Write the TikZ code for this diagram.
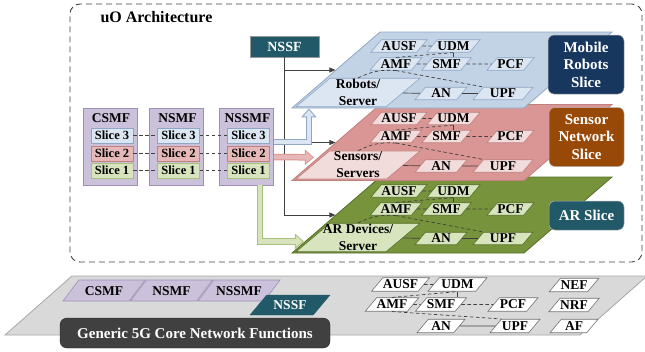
\documentclass[tikz,border=0pt]{standalone}
\usepackage{fontspec}
\setmainfont{Liberation Serif}
\usetikzlibrary{shapes.geometric,arrows.meta,calc}
\definecolor{blueplane}{HTML}{C3D3E6}
\definecolor{blueedge}{HTML}{8EA7C6}
\definecolor{bluelight}{HTML}{DCE6F2}
\definecolor{redplane}{HTML}{D99694}
\definecolor{rededge}{HTML}{C0807D}
\definecolor{redlight}{HTML}{F2DCDB}
\definecolor{redmid}{HTML}{E6B9B8}
\definecolor{greenplane}{HTML}{77933C}
\definecolor{greenedge}{HTML}{56702A}
\definecolor{greenlight}{HTML}{D7E4BD}
\definecolor{greensoft}{HTML}{A9BF7C}
\definecolor{mgrfill}{HTML}{CCC1DA}
\definecolor{mgredge}{HTML}{9F8FB6}
\definecolor{nssfcol}{HTML}{215968}
\definecolor{robotcol}{HTML}{17375E}
\definecolor{sensorcol}{HTML}{984807}
\definecolor{corefill}{HTML}{D9D9D9}
\definecolor{coreedge}{HTML}{A6A6A6}
\newcommand\fnsize{\fontsize{13.5}{15}\selectfont}
\newcommand\devsize{\fontsize{13.5}{17}\selectfont}
\newcommand\slsize{\fontsize{12.5}{14}\selectfont}
\newcommand\hdsize{\fontsize{13.5}{15}\selectfont}
\newcommand\tagsize{\fontsize{15}{17.5}\selectfont}
\newcommand\titlesize{\fontsize{16}{18}\selectfont}
% hollow arrow: fill, border, path
\newcommand\fatarrow[3]{%
  \draw[line width=6.5pt,draw=#2,line join=miter,-{Triangle[length=9pt,width=15pt]}] #3;
  \draw[line width=4.5pt,draw=#1,line join=miter,shorten >=1.6pt,-{Triangle[length=6.4pt,width=10.7pt]}] #3;
}

\begin{document}
\begin{tikzpicture}[x=1pt,y=-1pt,
every node/.style={font=\bfseries},
link/.style={draw=black!75,line width=0.7pt},
dashlink/.style={link,dash pattern=on 3.5pt off 2.5pt},
slanted/.style={trapezium,trapezium left angle=#1,trapezium right angle=180-#1,
  trapezium stretches body,inner sep=0pt},
fnbox/.style 2 args={slanted=50,fill=#1,draw=#2,line width=0.6pt,
  text height=10.5pt,text depth=2pt,font=\bfseries\fnsize},
plane/.style={slanted=40.8,line width=0.8pt,minimum width=320pt,text height=76pt,text depth=0pt},
devbox/.style={slanted=40,line width=0.6pt,minimum width=124pt,
  inner xsep=-14pt,inner ysep=1pt,align=center,font=\bfseries\devsize},
mgrbox/.style={fill=mgrfill,draw=mgredge,line width=0.8pt,minimum width=54pt,minimum height=77pt},
slicebox/.style={line width=0.8pt,minimum width=42pt,minimum height=15pt,inner sep=0pt,font=\bfseries\slsize},
slicetag/.style={rounded corners=6pt,text=white,align=center,inner sep=0pt,
  font=\bfseries\tagsize,draw=white!70!black,line width=0.5pt},
arr/.style={link,-{Triangle[length=6pt,width=5pt]}}]
\useasboundingbox (0,0) rectangle (645,351);

%outer frame
\node[draw=black!75,line width=0.9pt,dash pattern=on 6pt off 4pt,rounded corners=10pt,
  minimum width=572pt,minimum height=258pt] (uo) at (356,133) {};
\node[anchor=west,font=\bfseries\titlesize] (uot) at (97,17) {uO Architecture};

%managers with their slices
\foreach \n/\t/\x in {csmf/CSMF/110,nsmf/NSMF/176.5,nssmf/NSSMF/246.5}{
  \node[mgrbox] (\n) at (\x,146.5) {};
  \node[font=\bfseries\hdsize] (\n h) at (\x+1,118) {\t};
  \foreach \k/\y/\f/\e in {3/135.5/bluelight/blueedge,2/153.5/redmid/rededge,1/170.5/greenlight/greensoft}
    \node[slicebox,fill=\f,draw=\e] (\n\k) at (\x+2,\y) {Slice \k};
}
\foreach \k in {1,2,3}{
  \draw[dashlink] (csmf\k) -- (nsmf\k);
  \draw[dashlink] (nsmf\k) -- (nssmf\k);
}

%slice planes, lowest first
\foreach \p/\cy/\pf/\pe/\lf/\le/\dev in {
  3/215/greenplane/greenedge/greenlight/greenedge/{AR Devices/\\Server},
  2/142.5/redplane/rededge/redlight/rededge/{Sensors/\\Servers},
  1/70/blueplane/blueedge/bluelight/blueedge/{Robots/\\Server}}{
  \node[plane,fill=\pf,draw=\pe] (p\p) at (452,\cy) {};
  \node[devbox,fill=\lf,draw=\le] (dev\p) at (358,\cy+22.5) {\dev};
  \foreach \f/\t/\x/\dy/\w in {ausf/AUSF/399/-24/48,udm/UDM/453.5/-24/53,
      amf/AMF/396/-6/42,smf/SMF/446.5/-6/43,pcf/PCF/510.5/-6/45,
      an/AN/441/23.5/52,upf/UPF/503/23.5/60}
    \node[fnbox={\lf}{\le},minimum width=\w pt] (\f\p) at (\x,\cy+\dy) {\t};
  \draw[dashlink] (ausf\p) -- (udm\p);
  \draw[dashlink] (amf\p.north) -- (udm\p.south);
  \draw[link] (udm\p.south) -- (udm\p.south |- smf\p.north);
  \draw[dashlink] (amf\p) -- (smf\p);
  \draw[dashlink] (smf\p) -- (pcf\p);
  \draw[dashlink] (dev\p.north) to[bend left=15] (amf\p.south);
  \draw[dashlink] (amf\p.south) -- (upf\p.top left corner);
  \draw[link] (dev\p) -- (an\p);
  \draw[link] (an\p) -- (upf\p);
}

%slice names
\node[slicetag,fill=robotcol,minimum width=76pt,minimum height=59pt] (robot) at (586,64.5) {Mobile\\Robots\\Slice};
\node[slicetag,fill=sensorcol,minimum width=75pt,minimum height=59pt] (sensor) at (586.5,137) {Sensor\\Network\\Slice};
\node[slicetag,fill=nssfcol,minimum width=75pt,minimum height=29pt] (ar) at (586.5,215.5) {AR Slice};

%nssf selects the slices
\node[fill=nssfcol,draw=white!60!black,line width=0.5pt,text=white,minimum width=69pt,
  minimum height=21pt,inner sep=0pt,font=\bfseries\fontsize{14}{16}\selectfont] (nssf) at (284.5,46.5) {NSSF};
\foreach \p in {1,2,3}
  \draw[arr] (nssf.south) |- (p\p.west);

%hollow arrows from nssmf
\coordinate (r2) at ($(p2.bottom left corner)+(23,-23.5)$);
\coordinate (g3) at ($(p3.bottom left corner)+(13,-12)$);
\fatarrow{bluelight}{blueedge}{([yshift=4.5pt]nssmf.east) -| ([xshift=18pt]p1.bottom left corner)}
\fatarrow{redmid}{redplane}{([yshift=-10.5pt]nssmf.east) -- (r2)}
\fatarrow{greenlight}{greensoft}{([xshift=13.5pt]nssmf.south) |- (g3)}

%generic core
\node[slanted=41.4,fill=corefill,draw=coreedge,line width=0.8pt,minimum width=642pt,
  text height=59pt,text depth=0pt] (core) at (326,305.5) {};
\foreach \n/\t/\x in {ccsmf/CSMF/104,cnsmf/NSMF/171.5,cnssmf/NSSMF/239}
  \node[slanted=53,fill=mgrfill,draw=mgredge,line width=0.6pt,minimum width=82pt,
    text height=15pt,text depth=6pt,font=\bfseries\hdsize] (\n) at (\x,290.5) {\t};
\node[slanted=50,fill=nssfcol,draw=nssfcol,text=white,minimum width=80pt,
  text height=14.5pt,text depth=5.5pt,font=\bfseries\hdsize] (cnssf) at (290,305) {NSSF};
\node[fill=black!75,draw=black!85,rounded corners=7pt,text=white,minimum width=270pt,
  minimum height=30pt,inner sep=0pt,font=\bfseries\tagsize] (generic) at (195,333) {Generic 5G Core Network Functions};
\foreach \f/\t/\x/\y/\w in {ausf0/AUSF/400.5/284.5/55,udm0/UDM/457.5/284.5/59,
    amf0/AMF/392/304.5/40,smf0/SMF/441/304.5/42,pcf0/PCF/513/304.5/50,
    an0/AN/441/326/48,upf0/UPF/515/326/50,nef/NEF/574/285/48,nrf/NRF/574/305/48,af/AF/574/326/48}
  \node[fnbox={white}{black!55},minimum width=\w pt,text height=11pt,text depth=2.5pt] (\f) at (\x,\y) {\t};
\draw[dashlink] (ausf0) -- (udm0);
\draw[dashlink] (amf0.north) -- (udm0.south);
\draw[link] (udm0.south) -- (udm0.south |- smf0.north);
\draw[dashlink] (amf0) -- (smf0);
\draw[dashlink] (smf0) -- (pcf0);
\draw[dashlink] (amf0.south) -- (upf0.top left corner);
\draw[link] (an0) -- (upf0);
\end{tikzpicture}
\end{document}
